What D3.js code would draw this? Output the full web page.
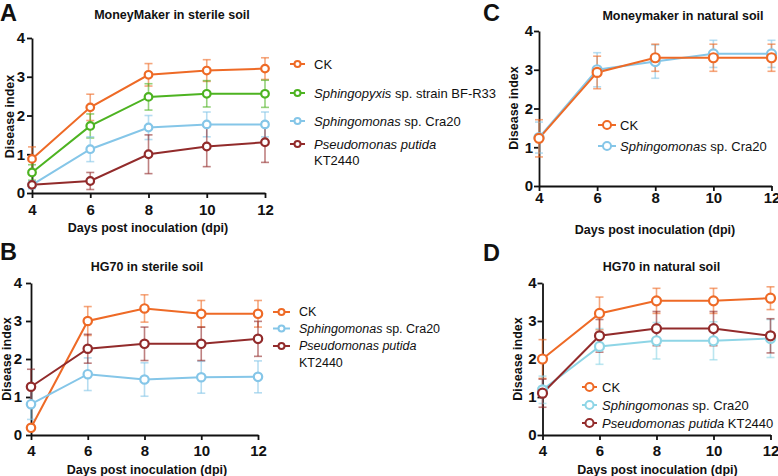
<!DOCTYPE html>
<html>
<head>
<meta charset="utf-8">
<script src="https://cdn.jsdelivr.net/npm/d3@7"></script>
<style>
  html, body { margin: 0; padding: 0; background: #fff; }
  svg { display: block; font-family: "Liberation Sans", Arial, Helvetica, sans-serif; }
</style>
</head>
<body>
<svg id="chart" width="778" height="476"></svg>
<script>
// ---------------- DATA ----------------
const days = [4, 6, 8, 10, 12];
const yTickValues = [0, 1, 2, 3, 4];

// Panel A: MoneyMaker in sterile soil
const ckA = [0.88, 2.21, 3.05, 3.16, 3.21];
const ckA_sd = [0.31, 0.34, 0.29, 0.28, 0.28];
const sphingopyxisA = [0.53, 1.73, 2.48, 2.56, 2.56];
const sphingopyxisA_sd = [0.2, 0.31, 0.34, 0.34, 0.35];
const sphingomonasA = [0.21, 1.13, 1.69, 1.77, 1.77];
const sphingomonasA_sd = [0.1, 0.32, 0.31, 0.32, 0.32];
const pseudomonasA = [0.21, 0.31, 1.0, 1.2, 1.31];
const pseudomonasA_sd = [0.05, 0.22, 0.5, 0.52, 0.52];

// Panel B: HG70 in sterile soil
const ckB = [0.19, 3.0, 3.33, 3.19, 3.19];
const ckB_sd = [0.05, 0.38, 0.36, 0.35, 0.35];
const sphingomonasB = [0.81, 1.6, 1.46, 1.52, 1.53];
const sphingomonasB_sd = [0.4, 0.43, 0.44, 0.42, 0.42];
const pseudomonasB = [1.27, 2.27, 2.4, 2.4, 2.53];
const pseudomonasB_sd = [0.46, 0.38, 0.44, 0.44, 0.46];

// Panel C: Moneymaker in natural soil
const ckC = [1.23, 2.93, 3.31, 3.31, 3.31];
const ckC_sd = [0.48, 0.42, 0.35, 0.35, 0.35];
const sphingomonasC = [1.25, 3.0, 3.21, 3.41, 3.41];
const sphingomonasC_sd = [0.4, 0.44, 0.43, 0.35, 0.35];

// Panel D: HG70 in natural soil
const ckD = [2.0, 3.2, 3.53, 3.53, 3.6];
const ckD_sd = [0.51, 0.43, 0.33, 0.33, 0.3];
const sphingomonasD = [1.19, 2.33, 2.48, 2.48, 2.54];
const sphingomonasD_sd = [0.36, 0.47, 0.48, 0.5, 0.5];
const pseudomonasD = [1.1, 2.61, 2.8, 2.8, 2.61];
const pseudomonasD_sd = [0.37, 0.43, 0.45, 0.45, 0.45];

// Labels
const panelLetters = ["A", "B", "C", "D"];
const panelTitles = ["MoneyMaker in sterile soil", "HG70 in sterile soil", "Moneymaker in natural soil", "HG70 in natural soil"];
const xAxisTitle = "Days post inoculation (dpi)";
const yAxisTitle = "Disease index";
// legend labels: lines of [text, italic] segments
const lblCK = [[["CK", false]]];
const lblSphingopyxis = [[["Sphingopyxis", true], [" sp. strain BF-R33", false]]];
const lblSphingomonas = [[["Sphingomonas", true], [" sp. Cra20", false]]];
const lblPseudomonas2 = [[["Pseudomonas putida", true]], [["KT2440", false]]];
const lblPseudomonas1 = [[["Pseudomonas putida", true], [" KT2440", false]]];

// Colours
const cOrange = "#EE6A26";
const cGreen = "#4DB321";
const cBlue = "#85C6E8";
const cCyan = "#8ED5E6";
const cRed = "#922B2B";

// ---------------- LAYOUT ----------------
const panels = [
  { letter: panelLetters[0], title: panelTitles[0],
    x0: 32, x1: 265, y0: 193, y1: 38,
    xPad: 6, yPad: 2,
    letterPos: [0, 21.3], titlePos: [172, 18.5], xTitlePos: [148, 232], yTitlePos: [13.5, 116.5],
    series: [
      { v: ckA, sd: ckA_sd, color: cOrange, label: lblCK },
      { v: sphingopyxisA, sd: sphingopyxisA_sd, color: cGreen, label: lblSphingopyxis },
      { v: sphingomonasA, sd: sphingomonasA_sd, color: cBlue, label: lblSphingomonas },
      { v: pseudomonasA, sd: pseudomonasA_sd, color: cRed, label: lblPseudomonas2 }
    ],
    r: 3.8,
    legend: { lx0: 290, lx1: 305, tx: 314, rows: [64, 93, 121, 144], lineH: 16, r: 3, font: 13 } },
  { letter: panelLetters[1], title: panelTitles[1],
    x0: 31, x1: 258, y0: 435, y1: 283,
    xPad: 5, yPad: 4,
    letterPos: [0, 259.5], titlePos: [147, 270.5], xTitlePos: [147, 474], yTitlePos: [11, 359],
    series: [
      { v: ckB, sd: ckB_sd, color: cOrange, label: lblCK },
      { v: sphingomonasB, sd: sphingomonasB_sd, color: cBlue, label: lblSphingomonas },
      { v: pseudomonasB, sd: pseudomonasB_sd, color: cRed, label: lblPseudomonas2 }
    ],
    r: 4.2,
    legend: { lx0: 273, lx1: 290, tx: 299, rows: [312, 328.5, 346], lineH: 17, r: 3, font: 12.5 } },
  { letter: panelLetters[2], title: panelTitles[2],
    x0: 539, x1: 771.5, y0: 186, y1: 31,
    xPad: 1.5, yPad: 1,
    letterPos: [483, 21.3], titlePos: [683, 19.5], xTitlePos: [655, 234], yTitlePos: [517.5, 108],
    series: [
      { v: sphingomonasC, sd: sphingomonasC_sd, color: cBlue, label: lblSphingomonas },
      { v: ckC, sd: ckC_sd, color: cOrange, label: lblCK }
    ],
    legendOrder: [1, 0],
    r: 4.5,
    legend: { lx0: 598, lx1: 616, tx: 620, rows: [125, 146], lineH: 16, r: 4, font: 13 } },
  { letter: panelLetters[3], title: panelTitles[3],
    x0: 542.5, x1: 770.5, y0: 435, y1: 283,
    xPad: 5, yPad: 1,
    letterPos: [483, 260.5], titlePos: [661.5, 270.5], xTitlePos: [657.5, 474], yTitlePos: [521.5, 359],
    series: [
      { v: ckD, sd: ckD_sd, color: cOrange, label: lblCK },
      { v: sphingomonasD, sd: sphingomonasD_sd, color: cCyan, label: lblSphingomonas },
      { v: pseudomonasD, sd: pseudomonasD_sd, color: cRed, label: lblPseudomonas1 }
    ],
    r: 4.5,
    legend: { lx0: 582, lx1: 597, tx: 602, rows: [387, 405, 423], lineH: 16, r: 4, font: 13 } }
];

// ---------------- DRAW ----------------
const svg = d3.select("#chart");

panels.forEach(p => {
  const g = svg.append("g");
  const x = d3.scaleLinear().domain([4, 12]).range([p.x0, p.x1]);
  const y = d3.scaleLinear().domain([0, 4]).range([p.y0, p.y1]);

  // axes
  const xAxis = d3.axisBottom(x).tickValues(days).tickFormat(d3.format("d")).tickSize(5).tickPadding(p.xPad).tickSizeOuter(0);
  const yAxis = d3.axisLeft(y).tickValues(yTickValues).tickFormat(d3.format("d")).tickSize(5).tickPadding(p.yPad).tickSizeOuter(0);
  const gx = g.append("g").attr("transform", `translate(0,${p.y0})`).call(xAxis);
  const gy = g.append("g").attr("transform", `translate(${p.x0},0)`).call(yAxis);
  [gx, gy].forEach(a => {
    a.select(".domain").attr("stroke", "#111").attr("stroke-width", 1.8);
    a.selectAll(".tick line").attr("stroke", "#111").attr("stroke-width", 1.8);
    a.selectAll(".tick text").attr("fill", "#111").style("font-size", "15px").style("font-weight", "bold")
      .style("font-family", '"Liberation Sans", Arial, sans-serif');
  });

  // series: error bars, lines
  const line = d3.line().x((d, i) => x(days[i])).y(d => y(d));
  p.series.forEach(s => {
    const eb = g.append("g").attr("stroke", s.color).attr("stroke-opacity", 0.6).attr("stroke-width", 1.6).attr("fill", "none");
    s.v.forEach((v, i) => {
      const cx = x(days[i]);
      const top = y(v + s.sd[i]);
      const bot = y(Math.max(0, v - s.sd[i]));
      eb.append("line").attr("x1", cx).attr("x2", cx).attr("y1", top).attr("y2", bot);
      eb.append("line").attr("x1", cx - 4).attr("x2", cx + 4).attr("y1", top).attr("y2", top);
      eb.append("line").attr("x1", cx - 4).attr("x2", cx + 4).attr("y1", bot).attr("y2", bot);
    });
  });
  p.series.forEach(s => {
    g.append("path").datum(s.v).attr("d", line).attr("fill", "none").attr("stroke", s.color).attr("stroke-width", 2);
  });
  p.series.forEach(s => {
    g.append("g").selectAll("circle").data(s.v).join("circle")
      .attr("cx", (d, i) => x(days[i])).attr("cy", d => y(d)).attr("r", p.r)
      .attr("fill", "#fff").attr("stroke", s.color).attr("stroke-width", 2.2);
  });

  // titles
  g.append("text").attr("x", p.letterPos[0]).attr("y", p.letterPos[1]).text(p.letter)
    .style("font-size", "23.5px").style("font-weight", "bold").attr("fill", "#111");
  g.append("text").attr("x", p.titlePos[0]).attr("y", p.titlePos[1]).attr("text-anchor", "middle").text(p.title)
    .style("font-size", "12.5px").style("font-weight", "bold").attr("fill", "#111");
  g.append("text").attr("x", p.xTitlePos[0]).attr("y", p.xTitlePos[1]).attr("text-anchor", "middle").text(xAxisTitle)
    .style("font-size", "12.5px").style("font-weight", "bold").attr("fill", "#111");
  g.append("g").attr("transform", "translate(" + p.yTitlePos[0] + "," + p.yTitlePos[1] + ")")
    .append("text").attr("transform", "rotate(-90)").attr("x", 0).attr("y", 0)
    .attr("text-anchor", "middle").text(yAxisTitle)
    .style("font-size", "12.5px").style("font-weight", "bold").attr("fill", "#111");

  // legend
  const L = p.legend;
  const order = p.legendOrder || p.series.map((_, i) => i);
  order.forEach((si, k) => {
    const s = p.series[si];
    const ry = L.rows[k];
    const lg = g.append("g");
    lg.append("line").attr("x1", L.lx0).attr("x2", L.lx1).attr("y1", ry).attr("y2", ry)
      .attr("stroke", s.color).attr("stroke-width", 2);
    lg.append("circle").attr("cx", (L.lx0 + L.lx1) / 2).attr("cy", ry).attr("r", L.r)
      .attr("fill", "#fff").attr("stroke", s.color).attr("stroke-width", 2);
    s.label.forEach((segs, li) => {
      const t = lg.append("text").attr("x", L.tx).attr("y", ry + li * L.lineH).attr("dy", "0.35em")
        .style("font-size", L.font + "px").attr("fill", "#111");
      segs.forEach(([txt, it]) => {
        t.append("tspan").text(txt).style("font-style", it ? "italic" : "normal");
      });
    });
  });
});
</script>
</body>
</html>
